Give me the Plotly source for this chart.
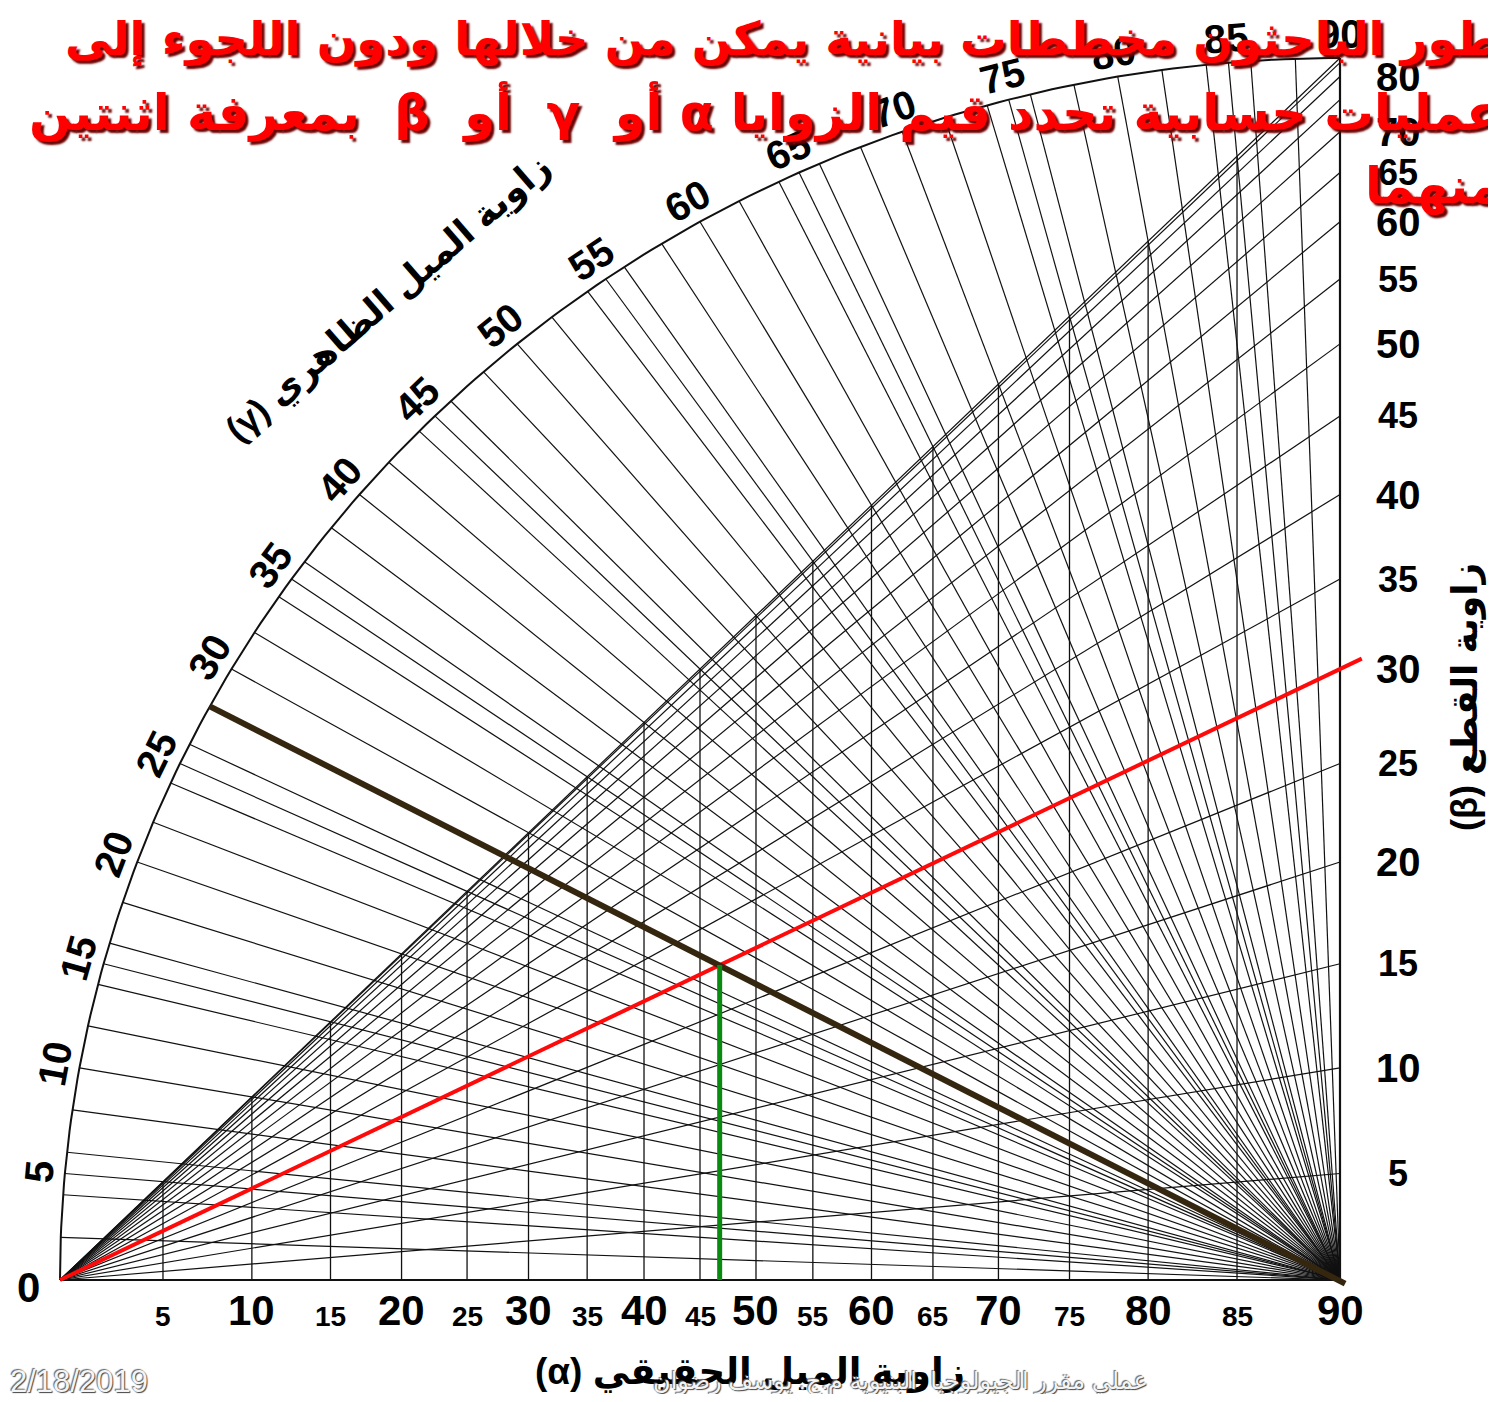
import numpy as np
import plotly.graph_objects as go

# ---------------- data (degrees) ----------------
alpha_lines = [5, 10, 15, 20, 25, 30, 35, 40, 45, 50, 55, 60, 65, 70, 75, 80, 85]
beta_lines = [5, 10, 15, 20, 25, 30, 35, 40, 45, 50, 55, 60, 65, 70, 75, 80, 85, 90]
gamma_lines = [2, 4, 5, 6, 8, 10, 12, 14, 15, 16, 18, 20, 22, 24, 25, 26, 28, 30,
               32, 34, 35, 36, 38, 40, 42, 44, 45, 46, 48, 50, 52, 54, 55, 56, 58,
               60, 62, 64, 65, 66, 68, 70, 72, 74, 75, 76, 78, 80, 82, 84, 85, 86, 88]
alpha_tick_labels = [5, 10, 15, 20, 25, 30, 35, 40, 45, 50, 55, 60, 65, 70, 75, 80, 85, 90]
beta_tick_labels = [5, 10, 15, 20, 25, 30, 35, 40, 45, 50, 55, 60, 65, 70, 80]
gamma_tick_labels = [5, 10, 15, 20, 25, 30, 35, 40, 45, 50, 55, 60, 65, 70, 75, 80, 85, 90]
example_gamma = 28   # apparent dip used in the worked example
example_beta = 30    # angle between strike and section

title_lines = [
    "طور الباحثون مخططات بيانية يمكن من خلالها ودون اللجوء إلى",
    "عمليات حسابية تحدد قيم الزوايا α أو  γ  أو  β  بمعرفة اثنتين",
    "منهما",
]
gamma_title = "زاوية الميل الظاهري (γ)"
beta_title = "زاوية القطع (β)"
alpha_title = "زاوية الميل الحقيقي (α)"
footer_text = "عملي مقرر الجيولوجيا  البنيوية م.ج. يوسف رضوان"
date_text = "2/18/2019"

RLE, PDF = "\u202B", "\u202C"


def rtl(s):
    return RLE + s + PDF


# ---------------- nomogram scales ----------------
r = np.radians


def alpha_x(a):
    a = r(a)
    return np.sin(a) / (np.sin(a) + np.cos(a))   # = tan/(1+tan)


def beta_y(b):
    return np.sin(r(b))


def arc_pt(g, rad=1.0):
    g = r(g)
    return 1 - rad * np.cos(g), rad * np.sin(g)


PXX, PXY = 1280.0, 1222.0      # pixels per unit (x, y)
OX, OY = 60.0, 1280.0          # page pixel of the origin
W, H = 1480, 1386              # figure size (page has an 8px body margin)


def u(px):
    return (px - OX) / PXX


def v(py):
    return (OY - py) / PXY


def paper_x(px):
    return (px - 8) / W


def paper_y(py):
    return 1 - (py - 8) / H


def seg_trace(segs, color="#111", width=1.0):
    xs, ys = [], []
    for (x0, y0, x1, y1) in segs:
        xs += [x0, x1, None]
        ys += [y0, y1, None]
    return go.Scatter(x=xs, y=ys, mode="lines", hoverinfo="skip",
                      line=dict(color=color, width=width))


fig = go.Figure()

# vertical alpha lines (bottom up to the beta = 90 diagonal)
fig.add_trace(seg_trace([(alpha_x(a), 0, alpha_x(a), alpha_x(a)) for a in alpha_lines], width=1.3))
# beta lines from the origin to the right edge
fig.add_trace(seg_trace([(0, 0, 1, beta_y(b)) for b in beta_lines], width=1.2))
# gamma lines from the lower-right corner to the arc
fig.add_trace(seg_trace([(1, 0, *arc_pt(g)) for g in gamma_lines], width=1.2))
# frame: bottom, right edge
fig.add_trace(seg_trace([(0, 0, 1, 0), (1, 0, 1, 1)], width=2.2))
# arc
gg = np.linspace(0, 90, 181)
ax_, ay_ = arc_pt(gg)
fig.add_trace(go.Scatter(x=ax_, y=ay_, mode="lines", hoverinfo="skip",
                         line=dict(color="#111", width=2)))

# worked example
tg = np.tan(r(example_gamma))
sb = beta_y(example_beta)
xi = tg / (sb + tg)
yi = sb * xi
ext = 1.017
fig.add_trace(go.Scatter(x=[0, ext], y=[0, sb * ext], mode="lines", hoverinfo="skip",
                         line=dict(color="#ff0a0a", width=4)))
gx, gy = arc_pt(example_gamma)
fig.add_trace(go.Scatter(x=[gx, 1.004], y=[gy, -0.003], mode="lines", hoverinfo="skip",
                         line=dict(color="#35260f", width=6)))
fig.add_trace(go.Scatter(x=[xi, xi], y=[0, yi], mode="lines", hoverinfo="skip",
                         line=dict(color="#0b8a12", width=5)))

FONT = "Liberation Sans, Arial, DejaVu Sans, sans-serif"
ann = []


def label(x, y, text, size, angle=0, color="black", family=FONT, weight="bold",
          xanchor="center", yanchor="middle", shadow=None, ref="data"):
    f = dict(family=family, size=size, color=color, weight=weight)
    if shadow:
        f["shadow"] = shadow
    xr, yr = ("x", "y") if ref == "data" else ("paper", "paper")
    ann.append(dict(x=x, y=y, xref=xr, yref=yr, text=text, showarrow=False,
                    textangle=angle, font=f, xanchor=xanchor, yanchor=yanchor))


# alpha labels
for a in alpha_tick_labels:
    big = a % 10 == 0
    label(alpha_x(a), v(1310) if big else v(1316), str(a), 42 if big else 28)
label(0, v(1287), "0", 42, xanchor="right")
ann[-1]["xshift"] = -18

# beta labels
for b in beta_tick_labels:
    big = b % 10 == 0
    label(u(1398), beta_y(b), str(b), 40 if big else 36)

# gamma labels around the arc
for g in gamma_tick_labels:
    x, y = arc_pt(g, 1.02)
    gr = r(g)
    ang = -np.degrees(np.arctan2(PXY * np.cos(gr), PXX * np.sin(gr)))
    label(x, y, str(g), 40, angle=ang)

# axis titles
label(u(388), v(298), rtl(gamma_title), 36, angle=-41)
label(u(1465), v(697), rtl(beta_title), 36, angle=-90)
label(u(750), v(1372), rtl(alpha_title), 37)

# footer + date
label(u(900), v(1381), rtl(footer_text), 24, color="#f4f4f4", weight="normal",
      family="Liberation Sans, DejaVu Sans",
      shadow="1px 1px 1px #444, -1px -1px 1px #666")
label(u(8), v(1381), date_text, 31, color="#f4f4f4", weight="normal", xanchor="left",
      family="Liberation Sans, DejaVu Sans",
      shadow="1px 1px 1px #444, -1px -1px 1px #666")

# red overlay title
red_shadow = "3px 3px 2px #6a0000"
for txt, py, fs in zip(title_lines, [40, 112, 186], [46.5, 49.5, 49.5]):
    label(paper_x(1502), paper_y(py), rtl(txt), fs, color="#ff0000", xanchor="right",
          shadow=red_shadow, family="DejaVu Sans, sans-serif", ref="paper")

fig.update_layout(
    width=W, height=H, margin=dict(l=0, r=0, t=0, b=0, pad=0),
    paper_bgcolor="white", plot_bgcolor="white", showlegend=False,
    xaxis=dict(range=[u(8), u(8 + W)], visible=False, fixedrange=True),
    yaxis=dict(range=[v(8 + H), v(8)], visible=False, fixedrange=True),
    annotations=ann,
)

fig.write_html("out.html")
